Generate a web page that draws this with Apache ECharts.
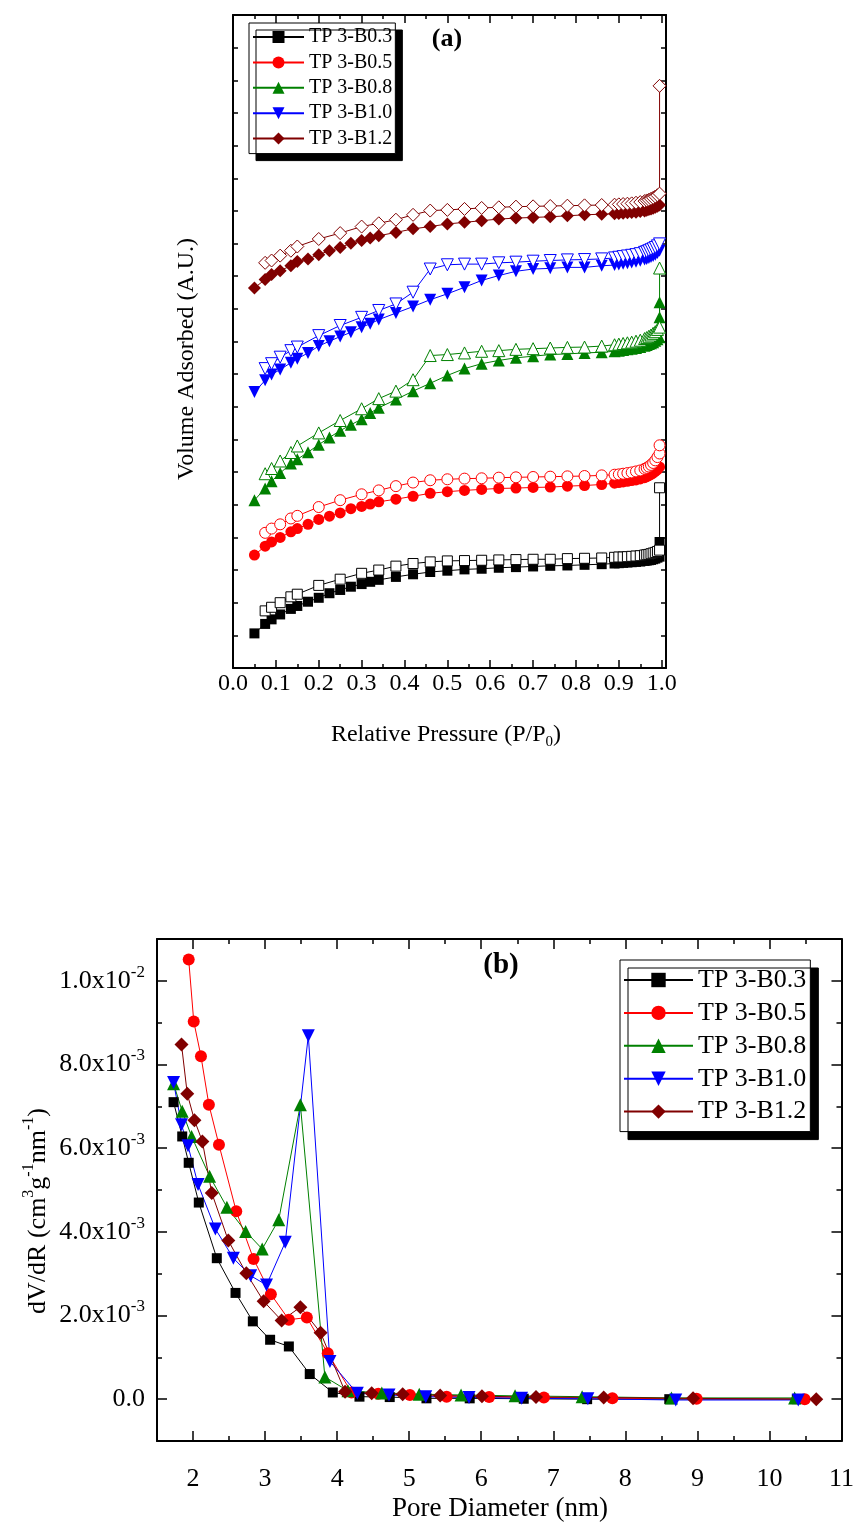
<!DOCTYPE html>
<html><head><meta charset="utf-8">
<script src="https://cdn.jsdelivr.net/npm/echarts@6.0.0/dist/echarts.min.js"></script>
<style>html,body{margin:0;padding:0;background:#fff}#c{width:857px;height:1526px}</style>
</head><body><div id="c"></div>
<script>
// ---------- shared ----------
const sampleNames = ['TP 3-B0.3', 'TP 3-B0.5', 'TP 3-B0.8', 'TP 3-B1.0', 'TP 3-B1.2'];

// ---------- (a) isotherms (arbitrary units) ----------
const aAdsX = [0.05, 0.075, 0.09, 0.11, 0.135, 0.15, 0.175, 0.2, 0.225, 0.25, 0.275, 0.3, 0.32, 0.34, 0.38, 0.42, 0.46, 0.5, 0.54, 0.58, 0.62, 0.66, 0.70, 0.74, 0.78, 0.82, 0.86,
  0.89, 0.90, 0.91, 0.92, 0.93, 0.94, 0.95, 0.96, 0.965, 0.97, 0.975, 0.98, 0.985, 0.99, 0.995];
const aDesX = [0.075, 0.09, 0.11, 0.135, 0.15, 0.2, 0.25, 0.3, 0.34, 0.38, 0.42, 0.46, 0.5, 0.54, 0.58, 0.62, 0.66, 0.70, 0.74, 0.78, 0.82, 0.86,
  0.89, 0.90, 0.91, 0.92, 0.93, 0.94, 0.95, 0.96, 0.965, 0.97, 0.975, 0.98, 0.985, 0.99, 0.995];
const aTopX = 0.995;

const b03Ads = [1.06, 1.35, 1.49, 1.64, 1.81, 1.90, 2.03, 2.15, 2.29, 2.39, 2.49, 2.57, 2.64, 2.70, 2.79, 2.87, 2.94, 2.98, 3.02, 3.04, 3.07, 3.09, 3.11, 3.13, 3.14, 3.16, 3.18,
  3.20, 3.21, 3.22, 3.23, 3.24, 3.25, 3.26, 3.28, 3.29, 3.30, 3.31, 3.33, 3.35, 3.38, 3.41];
const b03AdsTop = [3.86];
const b03Des = [1.75, 1.86, 2.00, 2.18, 2.26, 2.53, 2.72, 2.90, 3.00, 3.12, 3.20, 3.25, 3.28, 3.29, 3.30, 3.31, 3.32, 3.33, 3.33, 3.35, 3.36, 3.37,
  3.39, 3.40, 3.40, 3.41, 3.42, 3.43, 3.44, 3.46, 3.47, 3.48, 3.50, 3.52, 3.54, 3.57, 3.61];
const b03DesTop = [5.52];

const b05Ads = [3.46, 3.73, 3.86, 4.00, 4.17, 4.27, 4.40, 4.55, 4.65, 4.75, 4.88, 4.95, 5.02, 5.09, 5.17, 5.26, 5.35, 5.40, 5.44, 5.47, 5.50, 5.51, 5.53, 5.54, 5.57, 5.59, 5.62,
  5.66, 5.68, 5.70, 5.72, 5.74, 5.76, 5.79, 5.83, 5.86, 5.89, 5.93, 5.97, 6.02, 6.08, 6.16];
const b05AdsTop = [];
const b05Des = [4.14, 4.27, 4.40, 4.58, 4.66, 4.93, 5.14, 5.32, 5.44, 5.57, 5.68, 5.75, 5.78, 5.80, 5.81, 5.83, 5.84, 5.85, 5.86, 5.87, 5.88, 5.90,
  5.92, 5.93, 5.95, 5.97, 5.99, 6.02, 6.05, 6.10, 6.13, 6.17, 6.22, 6.28, 6.36, 6.46, 6.57];
const b05DesTop = [6.82];

const b08Ads = [5.14, 5.50, 5.72, 5.97, 6.26, 6.39, 6.61, 6.84, 7.06, 7.27, 7.45, 7.62, 7.81, 7.97, 8.22, 8.48, 8.72, 8.96, 9.17, 9.32, 9.42, 9.50, 9.55, 9.60, 9.62, 9.65, 9.67,
  9.70, 9.72, 9.74, 9.76, 9.78, 9.80, 9.83, 9.87, 9.89, 9.92, 9.95, 9.98, 10.02, 10.07, 10.13];
const b08AdsTop = [10.74, 11.20];
const b08Des = [5.95, 6.11, 6.34, 6.60, 6.80, 7.20, 7.58, 7.94, 8.25, 8.48, 8.83, 9.57, 9.60, 9.65, 9.70, 9.72, 9.76, 9.78, 9.80, 9.82, 9.83, 9.86,
  9.90, 9.92, 9.94, 9.96, 9.98, 10.01, 10.04, 10.09, 10.12, 10.16, 10.20, 10.25, 10.30, 10.37, 10.44];
const b08DesTop = [12.25];

const b10Ads = [8.45, 8.81, 8.99, 9.14, 9.35, 9.47, 9.65, 9.86, 10.01, 10.15, 10.28, 10.44, 10.54, 10.67, 10.87, 11.07, 11.28, 11.46, 11.66, 11.87, 12.02, 12.15, 12.22, 12.24, 12.27, 12.27, 12.32,
  12.34, 12.36, 12.38, 12.40, 12.42, 12.44, 12.47, 12.51, 12.53, 12.56, 12.59, 12.62, 12.66, 12.71, 12.78];
const b10AdsTop = [];
const b10Des = [9.17, 9.32, 9.52, 9.72, 9.83, 10.18, 10.49, 10.74, 10.95, 11.15, 11.51, 12.22, 12.35, 12.37, 12.37, 12.41, 12.43, 12.46, 12.48, 12.50, 12.51, 12.53,
  12.56, 12.58, 12.60, 12.62, 12.64, 12.66, 12.69, 12.73, 12.75, 12.78, 12.81, 12.84, 12.88, 12.93, 12.99];
const b10DesTop = [];

const b12Ads = [11.64, 11.90, 12.05, 12.17, 12.32, 12.45, 12.53, 12.66, 12.78, 12.88, 13.01, 13.09, 13.17, 13.24, 13.34, 13.45, 13.52, 13.60, 13.65, 13.70, 13.75, 13.78, 13.80, 13.82, 13.85, 13.88, 13.90,
  13.91, 13.92, 13.93, 13.94, 13.95, 13.96, 13.98, 14.00, 14.02, 14.04, 14.06, 14.08, 14.11, 14.14, 14.18];
const b12AdsTop = [];
const b12Des = [12.41, 12.48, 12.63, 12.78, 12.91, 13.14, 13.32, 13.52, 13.62, 13.73, 13.88, 14.01, 14.03, 14.06, 14.09, 14.11, 14.13, 14.14, 14.15, 14.16, 14.17, 14.18,
  14.19, 14.20, 14.21, 14.22, 14.23, 14.25, 14.27, 14.30, 14.32, 14.34, 14.37, 14.40, 14.44, 14.48, 14.53];
const b12DesTop = [17.83];

const aXTickValues = [0, 0.1, 0.2, 0.3, 0.4, 0.5, 0.6, 0.7, 0.8, 0.9, 1.0];
const aXTickLabels = ['0.0', '0.1', '0.2', '0.3', '0.4', '0.5', '0.6', '0.7', '0.8', '0.9', '1.0'];
const aXMinorTicks = [0.05, 0.15, 0.25, 0.35, 0.45, 0.55, 0.65, 0.75, 0.85, 0.95];

// ---------- (b) pore size distribution ----------
const pB03X = [1.73, 1.85, 1.94, 2.08, 2.33, 2.59, 2.83, 3.07, 3.33, 3.62, 3.94, 4.31, 4.73, 5.24, 5.84, 6.59, 7.47, 8.61, 10.38];
const pB03Y = [0.00710, 0.00628, 0.00565, 0.00470, 0.00337, 0.00254, 0.00186, 0.00142, 0.00126, 0.00060, 0.00016, 0.00006, 0.00005, 0.00002, 0.00002, 0.00001, 0.00000, 0.00000, 0.00000];
const pB05X = [1.94, 2.01, 2.11, 2.22, 2.36, 2.60, 2.84, 3.08, 3.33, 3.58, 3.87, 4.20, 4.57, 5.01, 5.52, 6.11, 6.87, 7.82, 8.99, 10.49];
const pB05Y = [0.01051, 0.00903, 0.00820, 0.00704, 0.00608, 0.00449, 0.00335, 0.00251, 0.00190, 0.00195, 0.00110, 0.00016, 0.00013, 0.00010, 0.00006, 0.00005, 0.00004, 0.00002, 0.00001, 0.00000];
const pB08X = [1.73, 1.85, 1.98, 2.23, 2.47, 2.73, 2.96, 3.19, 3.49, 3.83, 4.15, 4.62, 5.14, 5.72, 6.47, 7.40, 8.64, 10.35];
const pB08Y = [0.00754, 0.00688, 0.00628, 0.00533, 0.00459, 0.00401, 0.00359, 0.00429, 0.00704, 0.00053, 0.00020, 0.00015, 0.00012, 0.00010, 0.00008, 0.00006, 0.00003, 0.00003];
const pB10X = [1.73, 1.84, 1.93, 2.07, 2.31, 2.56, 2.80, 3.02, 3.28, 3.60, 3.90, 4.28, 4.72, 5.23, 5.83, 6.56, 7.48, 8.70, 10.40];
const pB10Y = [0.00757, 0.00656, 0.00606, 0.00513, 0.00407, 0.00337, 0.00295, 0.00273, 0.00375, 0.00869, 0.00090, 0.00014, 0.00010, 0.00006, 0.00004, 0.00002, 0.00001, -0.00002, -0.00002];
const pB12X = [1.84, 1.92, 2.02, 2.13, 2.26, 2.49, 2.74, 2.98, 3.23, 3.49, 3.77, 4.11, 4.48, 4.91, 5.43, 6.01, 6.76, 7.70, 8.94, 10.65];
const pB12Y = [0.00848, 0.00730, 0.00667, 0.00616, 0.00493, 0.00379, 0.00301, 0.00234, 0.00188, 0.00220, 0.00159, 0.00018, 0.00014, 0.00012, 0.00009, 0.00007, 0.00005, 0.00004, 0.00002, 0.00000];

const bXTickValues = [2, 3, 4, 5, 6, 7, 8, 9, 10, 11];
const bXTickLabels = ['2', '3', '4', '5', '6', '7', '8', '9', '10', '11'];
const bXMinorTicks = [2.5, 3.5, 4.5, 5.5, 6.5, 7.5, 8.5, 9.5, 10.5];
const bYTickValues = [0, 0.002, 0.004, 0.006, 0.008, 0.010];
const bYTickMant = ['0.0', '2.0x10', '4.0x10', '6.0x10', '8.0x10', '1.0x10'];
const bYTickExp = ['', '-3', '-3', '-3', '-3', '-2'];
const bYMinorTicks = [0.001, 0.003, 0.005, 0.007, 0.009];

// ---------- styles ----------
const FONT = 'Liberation Serif';
const colors = ['#000000', '#ff0000', '#008000', '#0000ff', '#800000'];
const symbols = ['rect', 'circle', 'triangle', 'triangle', 'diamond'];
const rotates = [0, 0, 0, 180, 0];
const aSizes = [10, 11, 12, 12, 13];
const bSizes = [10, 12, 13, 13, 14];

const aDefs = [
  { ads: b03Ads, adsTop: b03AdsTop, des: b03Des, desTop: b03DesTop },
  { ads: b05Ads, adsTop: b05AdsTop, des: b05Des, desTop: b05DesTop },
  { ads: b08Ads, adsTop: b08AdsTop, des: b08Des, desTop: b08DesTop },
  { ads: b10Ads, adsTop: b10AdsTop, des: b10Des, desTop: b10DesTop },
  { ads: b12Ads, adsTop: b12AdsTop, des: b12Des, desTop: b12DesTop }
];
const bDefs = [[pB03X, pB03Y], [pB05X, pB05Y], [pB08X, pB08Y], [pB10X, pB10Y], [pB12X, pB12Y]];

const series = [];
const common = { type: 'line', showAllSymbol: true, silent: true, animation: false, emphasis: { disabled: true }, z: 3 };
aDefs.forEach((d, k) => {
  const adsData = aAdsX.map((x, i) => [x, d.ads[i]]).concat(d.adsTop.map(v => [aTopX, v]));
  const desData = aDesX.map((x, i) => [x, d.des[i]]).concat(d.desTop.map(v => [aTopX, v]));
  series.push(Object.assign({}, common, {
    name: sampleNames[k], xAxisIndex: 0, yAxisIndex: 0, data: adsData,
    symbol: symbols[k], symbolRotate: rotates[k], symbolSize: aSizes[k],
    itemStyle: { color: colors[k] }, lineStyle: { color: colors[k], width: 1 }
  }));
  series.push(Object.assign({}, common, {
    name: sampleNames[k] + ' desorption', xAxisIndex: 0, yAxisIndex: 0, data: desData,
    symbol: symbols[k], symbolRotate: rotates[k], symbolSize: aSizes[k],
    itemStyle: { color: '#ffffff', borderColor: colors[k], borderWidth: 1 }, lineStyle: { color: colors[k], width: 1 }
  }));
});
bDefs.forEach((d, k) => {
  series.push(Object.assign({}, common, {
    name: sampleNames[k], xAxisIndex: 4, yAxisIndex: 2, data: d[0].map((x, i) => [x, d[1][i]]),
    symbol: symbols[k], symbolRotate: rotates[k], symbolSize: bSizes[k],
    itemStyle: { color: colors[k] }, lineStyle: { color: colors[k], width: 1 }
  }));
});

function ax(o) {
  const base = {
    type: 'value', splitLine: { show: false },
    axisLine: { show: o.line !== false, onZero: false, lineStyle: { color: '#000', width: 2 } },
    axisTick: { show: true, inside: true, length: o.len, lineStyle: { color: '#000', width: 1.5 } },
    axisLabel: { show: false }
  };
  if (o.ticks) base.axisTick.customValues = o.ticks;
  if (o.interval) base.interval = o.interval;
  const r = Object.assign(base, { gridIndex: o.grid, position: o.pos, min: o.min, max: o.max });
  if (o.label) r.axisLabel = o.label;
  return r;
}

const aXLabel = {
  show: true, customValues: aXTickValues, margin: 4, color: '#000', fontFamily: FONT, fontSize: 24,
  formatter: v => { const i = aXTickValues.findIndex(t => Math.abs(t - v) < 1e-9); return i >= 0 ? aXTickLabels[i] : ''; }
};
const bXLabel = {
  show: true, customValues: bXTickValues, margin: 25, color: '#000', fontFamily: FONT, fontSize: 26,
  formatter: v => { const i = bXTickValues.findIndex(t => Math.abs(t - v) < 1e-9); return i >= 0 ? bXTickLabels[i] : ''; }
};
const bYLabel = {
  show: true, customValues: bYTickValues, margin: 12, color: '#000', fontFamily: FONT, fontSize: 26,
  formatter: v => {
    const i = bYTickValues.findIndex(t => Math.abs(t - v) < 1e-12);
    if (i < 0) return '';
    return bYTickExp[i] ? '{m|' + bYTickMant[i] + '}{s|' + bYTickExp[i] + '}' : '{m|' + bYTickMant[i] + '}';
  },
  rich: {
    m: { fontFamily: FONT, fontSize: 26, lineHeight: 34, color: '#000' },
    s: { fontFamily: FONT, fontSize: 17, lineHeight: 17, verticalAlign: 'top', color: '#000' }
  }
};

const xAxis = [
  ax({ grid: 0, pos: 'bottom', min: 0, max: 1.01, ticks: aXTickValues, len: 8, label: aXLabel }),
  ax({ grid: 0, pos: 'bottom', min: 0, max: 1.01, ticks: aXMinorTicks, len: 4, line: false }),
  ax({ grid: 0, pos: 'top', min: 0, max: 1.01, ticks: aXTickValues, len: 8 }),
  ax({ grid: 0, pos: 'top', min: 0, max: 1.01, ticks: aXMinorTicks, len: 4, line: false }),
  ax({ grid: 1, pos: 'bottom', min: 1.5, max: 11, ticks: bXTickValues, len: 10, label: bXLabel }),
  ax({ grid: 1, pos: 'bottom', min: 1.5, max: 11, ticks: bXMinorTicks, len: 5, line: false }),
  ax({ grid: 1, pos: 'top', min: 1.5, max: 11, ticks: bXTickValues, len: 10 }),
  ax({ grid: 1, pos: 'top', min: 1.5, max: 11, ticks: bXMinorTicks, len: 5, line: false })
];
const yAxis = [
  ax({ grid: 0, pos: 'left', min: 0, max: 20, interval: 1, len: 5 }),
  ax({ grid: 0, pos: 'right', min: 0, max: 20, interval: 1, len: 5 }),
  ax({ grid: 1, pos: 'left', min: -0.001, max: 0.011, ticks: bYTickValues, len: 10, label: bYLabel }),
  ax({ grid: 1, pos: 'left', min: -0.001, max: 0.011, ticks: bYMinorTicks, len: 5, line: false }),
  ax({ grid: 1, pos: 'right', min: -0.001, max: 0.011, ticks: bYTickValues, len: 10 }),
  ax({ grid: 1, pos: 'right', min: -0.001, max: 0.011, ticks: bYMinorTicks, len: 5, line: false })
];

const legendBase = {
  orient: 'vertical', align: 'left', selectedMode: false,
  backgroundColor: '#ffffff', borderColor: '#000', borderWidth: 1,
  shadowColor: '#000', shadowBlur: 0
};

const option = {
  animation: false,
  backgroundColor: '#ffffff',
  grid: [
    { left: 233, top: 15, width: 433, height: 653, containLabel: false },
    { left: 157, top: 939, width: 686, height: 502, containLabel: false }
  ],
  xAxis, yAxis,
  legend: [
    Object.assign({}, legendBase, {
      data: sampleNames, left: 249, top: 23, itemWidth: 51, itemHeight: 15, itemGap: 5.4,
      padding: [4, 3, 5, 3], shadowOffsetX: 7, shadowOffsetY: 7,
      textStyle: { fontFamily: FONT, fontSize: 20, color: '#000' }
    }),
    Object.assign({}, legendBase, {
      data: sampleNames, left: 620, top: 960, itemWidth: 69, itemHeight: 18, itemGap: 6.9,
      padding: [7, 4, 7, 3], shadowOffsetX: 8, shadowOffsetY: 8,
      textStyle: { fontFamily: FONT, fontSize: 26, color: '#000' }
    })
  ],
  graphic: [
    { type: 'text', x: 447, y: 39, z: 10, style: { text: '(a)', fontFamily: FONT, fontWeight: 'bold', fontSize: 26, fill: '#000', align: 'center', verticalAlign: 'middle' } },
    { type: 'text', x: 501, y: 966, z: 10, style: { text: '(b)', fontFamily: FONT, fontWeight: 'bold', fontSize: 29, fill: '#000', align: 'center', verticalAlign: 'middle' } },
    { type: 'text', x: 446, y: 735, z: 10, style: {
        text: '{m|Relative Pressure (P/P}{sub|0}{m|)}', align: 'center', verticalAlign: 'middle',
        rich: { m: { fontFamily: FONT, fontSize: 24, lineHeight: 30, fill: '#000' }, sub: { fontFamily: FONT, fontSize: 15, lineHeight: 15, verticalAlign: 'bottom', fill: '#000' } } } },
    { type: 'text', x: 187, y: 359, rotation: Math.PI / 2, z: 10, style: { text: 'Volume Adsorbed (A.U.)', fontFamily: FONT, fontSize: 24, fill: '#000', align: 'center', verticalAlign: 'middle' } },
    { type: 'text', x: 500, y: 1509, z: 10, style: { text: 'Pore Diameter (nm)', fontFamily: FONT, fontSize: 27, fill: '#000', align: 'center', verticalAlign: 'middle' } },
    { type: 'text', x: 38, y: 1211, rotation: Math.PI / 2, z: 10, style: {
        text: '{m|dV/dR (cm}{s|3}{m|g}{s|-1}{m|nm}{s|-1}{m|)}', align: 'center', verticalAlign: 'middle',
        rich: { m: { fontFamily: FONT, fontSize: 26, lineHeight: 34, fill: '#000' }, s: { fontFamily: FONT, fontSize: 16, lineHeight: 16, verticalAlign: 'top', fill: '#000' } } } }
  ],
  series
};

const chart = echarts.init(document.getElementById('c'), null, { renderer: 'canvas' });
chart.setOption(option);
</script></body></html>
